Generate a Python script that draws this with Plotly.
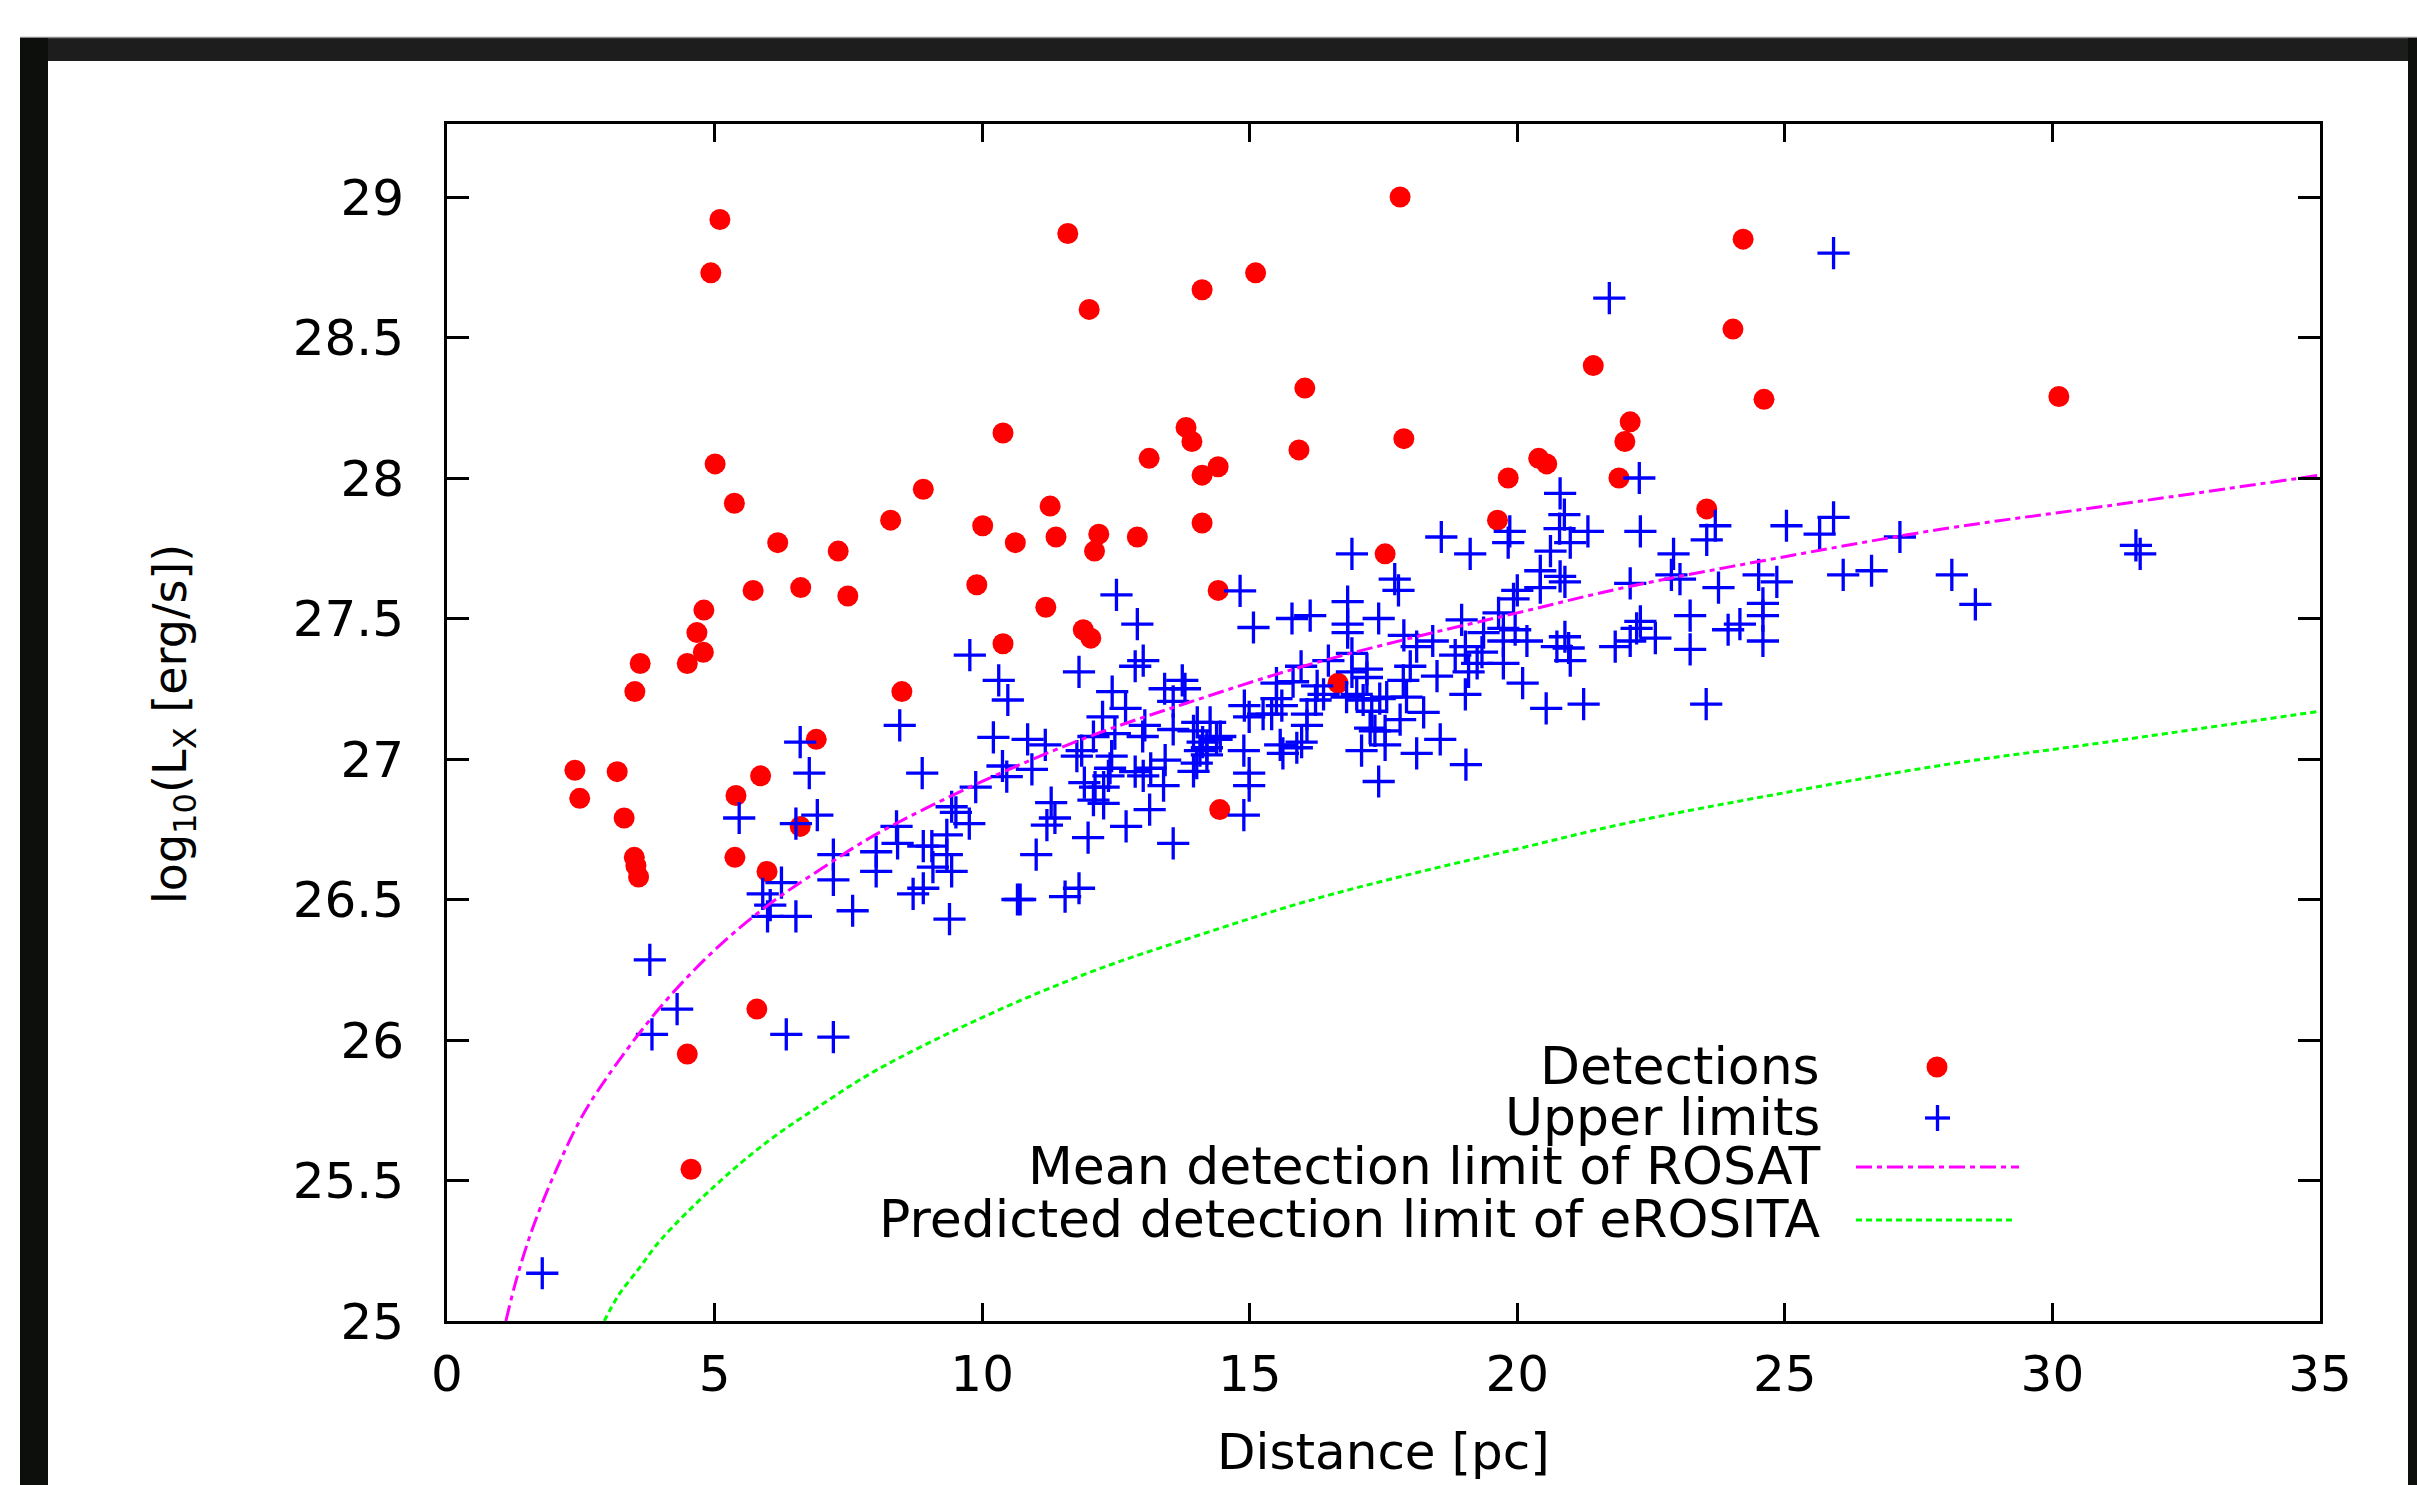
import plotly.graph_objects as go

# ---------------- data ----------------
detections = [
    (5.10, 28.92), (4.93, 28.73), (11.60, 28.87), (15.11, 28.73), (14.11, 28.67), (12.00, 28.60),
    (5.01, 28.05), (5.37, 27.91), (10.39, 28.16), (13.81, 28.18), (13.92, 28.13), (13.12, 28.07),
    (14.11, 28.01), (14.41, 28.04), (16.03, 28.32), (15.92, 28.10), (8.90, 27.96), (11.27, 27.90),
    (8.29, 27.85), (10.01, 27.83), (10.62, 27.77), (11.38, 27.79), (12.18, 27.80), (12.10, 27.74),
    (12.90, 27.79), (14.11, 27.84), (6.18, 27.77), (7.31, 27.74), (5.72, 27.60), (6.61, 27.61),
    (7.49, 27.58), (9.90, 27.62), (14.41, 27.60), (11.19, 27.54), (4.80, 27.53), (4.67, 27.45),
    (11.89, 27.46), (12.03, 27.43), (10.39, 27.41), (3.61, 27.34), (4.49, 27.34), (4.79, 27.38),
    (3.51, 27.24), (8.50, 27.24), (6.90, 27.07), (2.39, 26.96), (3.18, 26.955), (2.48, 26.86),
    (5.86, 26.94), (5.40, 26.87), (3.31, 26.79), (6.60, 26.76), (3.50, 26.65), (3.53, 26.62),
    (3.58, 26.58), (5.38, 26.65), (5.98, 26.60), (14.44, 26.82), (4.49, 25.95), (4.56, 25.54),
    (5.79, 26.11), (17.81, 29.00), (24.22, 28.85), (24.03, 28.53), (21.42, 28.40), (24.61, 28.28),
    (30.12, 28.29), (22.11, 28.20), (22.01, 28.13), (17.88, 28.14), (20.40, 28.07), (20.55, 28.05),
    (19.83, 28.00), (21.90, 28.00), (23.54, 27.89), (19.63, 27.85), (17.53, 27.73), (16.65, 27.27),
]

upper_limits = [
    (1.78, 25.17), (3.79, 26.285), (3.83, 26.02), (4.30, 26.11), (5.46, 26.79), (6.52, 26.77),
    (6.92, 26.80), (5.90, 26.52), (6.04, 26.48), (5.99, 26.44), (6.52, 26.44), (6.25, 26.56),
    (7.22, 26.66), (7.22, 26.57), (7.58, 26.46), (6.34, 26.02), (7.22, 26.01), (6.60, 27.06),
    (6.77, 26.95), (8.46, 27.12), (8.88, 26.95), (8.02, 26.67), (8.02, 26.60), (8.40, 26.76),
    (8.42, 26.70), (8.90, 26.69), (9.06, 26.69), (9.08, 26.615), (8.90, 26.54), (8.71, 26.52),
    (9.34, 26.73), (9.34, 26.66), (9.43, 26.60), (9.43, 26.83), (9.51, 26.81), (9.76, 26.77),
    (9.88, 26.90), (9.39, 26.43), (10.71, 26.50),
    (9.77, 27.37), (10.31, 27.28), (10.48, 27.21), (11.81, 27.31), (12.86, 27.33), (13.01, 27.35),
    (12.43, 27.24), (12.68, 27.18), (12.25, 27.15), (13.41, 27.25), (13.74, 27.28), (13.79, 27.25),
    (13.57, 27.205), (13.04, 27.12), (13.00, 27.08), (13.57, 27.105), (14.02, 27.13), (14.26, 27.13),
    (14.38, 27.07), (14.07, 27.03), (14.20, 27.015), (14.01, 26.985), (13.95, 26.956), (13.42, 26.996),
    (13.39, 26.905), (12.86, 26.955), (13.01, 26.94), (13.15, 26.967), (13.57, 26.70), (13.13, 26.82),
    (12.69, 26.76), (11.98, 26.72), (11.01, 26.66), (11.81, 26.54), (11.55, 26.51), (10.66, 26.50),
    (11.29, 26.845), (11.36, 26.79), (11.21, 26.765), (10.21, 27.077), (10.85, 27.07), (11.18, 27.05),
    (10.38, 26.975), (10.46, 26.937), (10.93, 26.963), (11.86, 27.03), (11.77, 27.01), (12.08, 27.08),
    (12.48, 27.09), (12.42, 27.01), (12.39, 26.967), (12.36, 26.94), (11.91, 26.916), (12.11, 26.90),
    (12.27, 26.90), (12.08, 26.854), (12.27, 26.842),
    (12.51, 27.584), (12.90, 27.48), (14.82, 27.598), (15.07, 27.468), (15.79, 27.50),
    (16.13, 27.51), (16.83, 27.56), (16.83, 27.48), (16.83, 27.45), (17.41, 27.50), (17.88, 27.44),
    (18.42, 27.42), (18.12, 27.40), (18.00, 27.33), (17.87, 27.28), (17.93, 27.22), (18.50, 27.295),
    (18.25, 27.166), (17.81, 27.14), (17.53, 27.10), (17.53, 27.05), (17.34, 27.10), (17.09, 27.03),
    (18.12, 27.02), (18.56, 27.07), (17.41, 26.92), (17.28, 27.17), (17.25, 27.11), (16.81, 27.22),
    (17.00, 27.23), (17.12, 27.21), (17.43, 27.215), (17.56, 27.22), (17.19, 27.32), (17.19, 27.29),
    (16.91, 27.376), (16.91, 27.31), (16.47, 27.35), (16.26, 27.26), (16.23, 27.21), (16.38, 27.23),
    (16.07, 27.16), (16.07, 27.12), (15.97, 27.06), (15.88, 27.04), (15.96, 27.33), (15.81, 27.275),
    (15.50, 27.27), (15.50, 27.215), (15.41, 27.16), (15.60, 27.19), (15.57, 27.05), (15.62, 27.02),
    (14.90, 27.19), (14.99, 27.15), (15.25, 27.16), (14.89, 27.03), (14.99, 26.95), (14.99, 26.905),
    (14.89, 26.80), (14.45, 27.08), (13.95, 27.10), (14.12, 27.06), (14.20, 27.04),
    (16.91, 27.73), (17.71, 27.64), (17.78, 27.60), (18.58, 27.79), (19.12, 27.73), (19.86, 27.81),
    (19.83, 27.77), (20.62, 27.74), (20.99, 27.77), (20.80, 27.945), (20.88, 27.87), (20.79, 27.82),
    (21.32, 27.81), (22.28, 28.00), (22.30, 27.81), (21.72, 28.64), (25.91, 28.80), (22.92, 27.73),
    (23.54, 27.78), (23.70, 27.83),
    (20.43, 27.67), (20.43, 27.61), (20.80, 27.65), (20.89, 27.63), (20.00, 27.60), (19.93, 27.57),
    (19.65, 27.52), (18.96, 27.495), (22.11, 27.625), (22.88, 27.655), (23.04, 27.64), (23.76, 27.61),
    (23.23, 27.51), (19.37, 27.45), (19.34, 27.38), (19.25, 27.34), (19.74, 27.465), (19.96, 27.46),
    (19.74, 27.42), (20.18, 27.42), (19.03, 27.40), (18.84, 27.37), (19.74, 27.34), (19.09, 27.31),
    (19.03, 27.23), (20.10, 27.27), (19.04, 26.98), (20.54, 27.18), (21.24, 27.195), (20.89, 27.435),
    (20.74, 27.40), (20.96, 27.395), (20.99, 27.35), (21.83, 27.40), (22.30, 27.49), (22.23, 27.465),
    (22.58, 27.43), (22.11, 27.42), (23.23, 27.39), (23.53, 27.195),
    (25.03, 27.83), (25.91, 27.86), (25.65, 27.80), (27.15, 27.79), (31.56, 27.76), (31.64, 27.73),
    (24.51, 27.655), (24.85, 27.63), (26.09, 27.655), (26.62, 27.67), (28.12, 27.655), (28.56, 27.55),
    (24.59, 27.554), (24.59, 27.51), (24.59, 27.42), (24.16, 27.48), (23.94, 27.46),
]

rosat_d = [1.1, 1.3, 1.6, 2.0, 2.5, 3.0, 4.0, 5.0, 6.0, 7.0, 8.0, 10, 12, 14, 16, 18, 20, 22, 25, 28, 31, 35]
rosat_lx = [25.00, 25.15, 25.33, 25.52, 25.72, 25.87, 26.12, 26.32, 26.48, 26.61, 26.73, 26.92, 27.08,
            27.21, 27.33, 27.43, 27.52, 27.61, 27.72, 27.82, 27.90, 28.01]

erosita_d = [2.94, 3.2, 3.6, 4.0, 5.0, 6.0, 7.0, 8.0, 10, 12, 14, 16, 18, 20, 22, 25, 28, 31, 35]
erosita_lx = [25.00, 25.09, 25.19, 25.29, 25.48, 25.64, 25.77, 25.89, 26.08, 26.24, 26.37, 26.49,
              26.59, 26.68, 26.77, 26.88, 26.98, 27.06, 27.17]

x_ticks = [0, 5, 10, 15, 20, 25, 30, 35]
y_ticks = [25, 25.5, 26, 26.5, 27, 27.5, 28, 28.5, 29]
y_tick_text = ["25", "25.5", "26", "26.5", "27", "27.5", "28", "28.5", "29"]

legend_labels = ["Detections", "Upper limits", "Mean detection limit of ROSAT",
                 "Predicted detection limit of eROSITA"]

det_d = [p[0] for p in detections]
det_lx = [p[1] for p in detections]
ul_d = [p[0] for p in upper_limits]
ul_lx = [p[1] for p in upper_limits]

# ---------------- layout geometry (pixels of the 2417x1485 page) ----------------
W, H = 2417, 1485
L, R, T, B = 447, 2320, 124, 1321
FONT = "DejaVu Sans"
RED, BLUE, MAG, GREEN = "#ff0000", "#0000ff", "#ff00ff", "#00ff00"
ROSAT_DASH = "16px,5px,5px,5px"
EROS_DASH = "6px,4px"


def px(X):
    return (X - L) / (R - L)


def py(Y):
    return (B - Y) / (B - T)


fig = go.Figure()
fig.add_trace(go.Scatter(x=det_d, y=det_lx, mode="markers", name=legend_labels[0],
                         marker=dict(symbol="circle", size=21, color=RED, line=dict(width=0))))
fig.add_trace(go.Scatter(x=ul_d, y=ul_lx, mode="markers", name=legend_labels[1],
                         marker=dict(symbol="cross-thin", size=23, color=BLUE,
                                     line=dict(width=3.3, color=BLUE))))
fig.add_trace(go.Scatter(x=rosat_d, y=rosat_lx, mode="lines", name=legend_labels[2],
                         line=dict(color=MAG, width=3, dash=ROSAT_DASH, shape="spline")))
fig.add_trace(go.Scatter(x=erosita_d, y=erosita_lx, mode="lines", name=legend_labels[3],
                         line=dict(color=GREEN, width=3, dash=EROS_DASH, shape="spline")))

axis_common = dict(showgrid=False, zeroline=False, showline=True, linecolor="black", linewidth=3,
                   mirror="ticks", ticks="inside", tickcolor="black", tickwidth=3,
                   tickfont=dict(family=FONT, size=50, color="black"))

fig.update_xaxes(range=[0, 35], tickvals=x_ticks, ticklen=18, ticklabelstandoff=7, **axis_common)
fig.update_yaxes(range=[25, 25 + (B - T) / 281.0], tickvals=y_ticks, ticktext=y_tick_text,
                 ticklen=22, ticklabelstandoff=30, **axis_common)

shapes = [
    # dark window frame
    dict(type="rect", xref="paper", yref="paper", x0=px(20), x1=px(W), y0=py(61), y1=py(37),
         fillcolor="#1c1d1c", line=dict(width=0)),
    dict(type="line", xref="paper", yref="paper", x0=px(20), x1=px(W), y0=py(37.5), y1=py(37.5),
         line=dict(color="#8a8a8a", width=1.5)),
    dict(type="rect", xref="paper", yref="paper", x0=px(20), x1=px(48), y0=py(H), y1=py(38),
         fillcolor="#0d0f0d", line=dict(width=0)),
    dict(type="rect", xref="paper", yref="paper", x0=px(2408), x1=px(W), y0=py(H), y1=py(38),
         fillcolor="#0d0f0d", line=dict(width=0)),
    # legend keys
    dict(type="circle", xref="paper", yref="paper", x0=px(1926.5), x1=px(1947.5),
         y0=py(1077.5), y1=py(1056.5), fillcolor=RED, line=dict(width=0)),
    dict(type="line", xref="paper", yref="paper", x0=px(1925), x1=px(1950), y0=py(1118), y1=py(1118),
         line=dict(color=BLUE, width=3.3)),
    dict(type="line", xref="paper", yref="paper", x0=px(1937.5), x1=px(1937.5), y0=py(1105), y1=py(1131),
         line=dict(color=BLUE, width=3.3)),
    dict(type="line", xref="paper", yref="paper", x0=px(1856), x1=px(2019), y0=py(1167), y1=py(1167),
         line=dict(color=MAG, width=3, dash=ROSAT_DASH)),
    dict(type="line", xref="paper", yref="paper", x0=px(1856), x1=px(2015), y0=py(1220), y1=py(1220),
         line=dict(color=GREEN, width=3, dash=EROS_DASH)),
]

annotations = []
for label, yc in zip(legend_labels, [1066, 1117, 1166, 1219]):
    annotations.append(dict(text=label, xref="paper", yref="paper", x=px(1822), y=py(yc),
                            xanchor="right", yanchor="middle", showarrow=False,
                            font=dict(family=FONT, size=52, color="black")))
annotations.append(dict(text="Distance [pc]", xref="paper", yref="paper", x=0.5, y=py(1452),
                        xanchor="center", yanchor="middle", showarrow=False,
                        font=dict(family=FONT, size=50, color="black")))
annotations.append(dict(text="log<sub>10</sub>(L<sub>X</sub> [erg/s])", xref="paper", yref="paper",
                        x=px(173), y=py(724), xanchor="center", yanchor="middle", textangle=-90,
                        showarrow=False, font=dict(family=FONT, size=46, color="black")))

fig.update_layout(width=W, height=H, margin=dict(l=L, r=W - R, t=T, b=H - B, pad=0),
                  paper_bgcolor="white", plot_bgcolor="white", showlegend=False,
                  shapes=shapes, annotations=annotations)

fig.write_html("out.html", config={"displayModeBar": False},
               post_script="document.body.style.margin='0';document.body.style.overflow='hidden';")
